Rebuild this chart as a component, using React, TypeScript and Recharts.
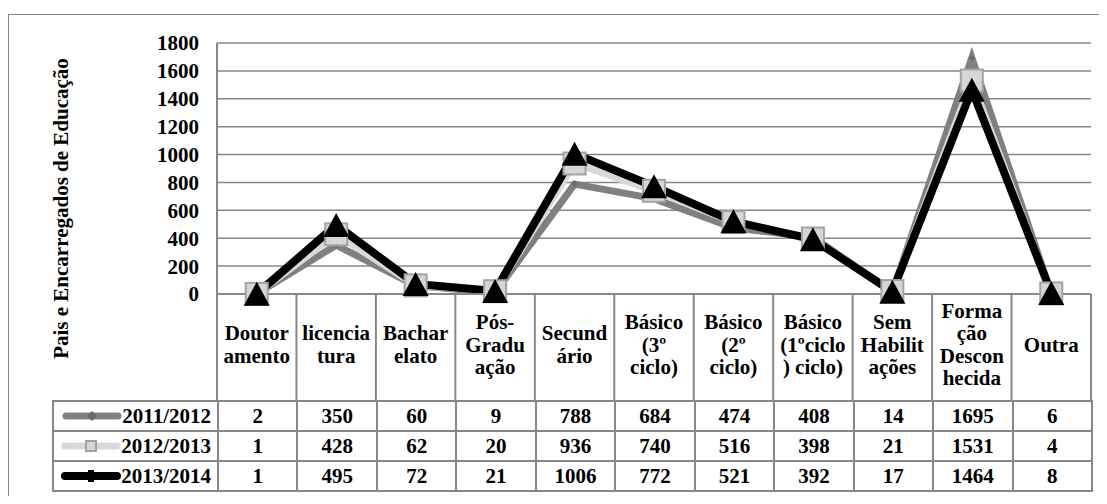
import React from 'react';
import { LineChart, Line, XAxis, YAxis, CartesianGrid, Label } from 'recharts';

const categories = [
  'Doutoramento', 'licenciatura', 'Bacharelato', 'Pós-Graduação', 'Secundário',
  'Básico (3º ciclo)', 'Básico (2º ciclo)', 'Básico (1ºciclo) ciclo)', 'Sem Habilitações',
  'Formação Desconhecida', 'Outra',
];
// category header text, broken the way the original table wraps it
const categoryLines = [
  ['Doutor', 'amento'], ['licencia', 'tura'], ['Bachar', 'elato'], ['Pós-', 'Gradu', 'ação'],
  ['Secund', 'ário'], ['Básico', '(3º', 'ciclo)'], ['Básico', '(2º', 'ciclo)'],
  ['Básico', '(1ºciclo', ') ciclo)'], ['Sem', 'Habilit', 'ações'], ['Forma', 'ção', 'Descon', 'hecida'], ['Outra'],
];
const seriesNames = ['2011/2012', '2012/2013', '2013/2014'];
const values2011 = [2, 350, 60, 9, 788, 684, 474, 408, 14, 1695, 6];
const values2012 = [1, 428, 62, 20, 936, 740, 516, 398, 21, 1531, 4];
const values2013 = [1, 495, 72, 21, 1006, 772, 521, 392, 17, 1464, 8];
const yTicks = [0, 200, 400, 600, 800, 1000, 1200, 1400, 1600, 1800];
const yTitle = 'Pais e Encarregados de Educação';

const seriesValues = [values2011, values2012, values2013];
const data = categories.map((name, i) => ({
  name,
  s0: values2011[i],
  s1: values2012[i],
  s2: values2013[i],
}));

const FONT = '"Liberation Serif", "Times New Roman", serif';
const GRID = '#878787';
const PLOT_W = 874;
const BAND = PLOT_W / categories.length;
const HEADER_H = 107;

const Diamond = ({ cx, cy, r = 9 }: any) =>
  cx == null ? null : (
    <polygon points={`${cx},${cy - r} ${cx + r},${cy} ${cx},${cy + r} ${cx - r},${cy}`} fill="#6a6a6a" />
  );
const Square = ({ cx, cy, s = 11 }: any) =>
  cx == null ? null : (
    <rect x={cx - s} y={cy - s} width={s * 2} height={s * 2} fill="#d6d6d6" stroke="#a3a3a3" strokeWidth={2} />
  );
const Triangle = ({ cx, cy, h = 12, w = 13 }: any) =>
  cx == null ? null : (
    <polygon points={`${cx},${cy - h} ${cx + w},${cy + h} ${cx - w},${cy + h}`} fill="#000" />
  );

const seriesStyle = [
  { stroke: '#808080', width: 7, Dot: Diamond },
  { stroke: '#d9d9d9', width: 7, Dot: Square },
  { stroke: '#000000', width: 8, Dot: Triangle },
];

const CategoryTick = (props: any) => {
  const { x, y, index } = props;
  const lines = categoryLines[index] || [];
  const mid = y + HEADER_H / 2;
  const last = index === categoryLines.length - 1;
  return (
    <g>
      <line x1={x - BAND / 2} x2={x - BAND / 2} y1={y} y2={y + HEADER_H} stroke={GRID} strokeWidth={2} />
      {last && <line x1={x + BAND / 2} x2={x + BAND / 2} y1={y} y2={y + HEADER_H} stroke={GRID} strokeWidth={2} />}
      <text textAnchor="middle" fontSize={21} fontWeight="bold" fontFamily={FONT} fill="#000">
        {lines.map((l, i) => (
          <tspan key={i} x={x} y={mid + (i - (lines.length - 1) / 2) * 22.5 + 4}>{l}</tspan>
        ))}
      </text>
    </g>
  );
};

const TitleLabel = (props: any) => {
  const vb = props.viewBox || { x: 0, y: 0, height: 0 };
  const tx = vb.x + 53;
  const ty = vb.y + vb.height / 2 + 40;
  return (
    <text x={tx} y={ty} transform={`rotate(-90, ${tx}, ${ty})`} textAnchor="middle" dominantBaseline="central"
      fontSize={21} fontWeight="bold" fontFamily={FONT} fill="#000">
      {yTitle}
    </text>
  );
};

const LegendKey = ({ si }: { si: number }) => {
  const st = seriesStyle[si];
  return (
    <svg width={60} height={16} style={{ display: 'block' }}>
      <line x1={4} x2={56} y1={8} y2={8} stroke={st.stroke} strokeWidth={st.width} strokeLinecap="round" />
      {si === 0 && <Diamond cx={30} cy={8} r={5} />}
      {si === 1 && <Square cx={30} cy={8} s={5} />}
      {si === 2 && <rect x={27} y={2} width={6} height={12} fill="#000" />}
    </svg>
  );
};

const cellStyle: React.CSSProperties = {
  border: `2px solid ${GRID}`,
  height: 30,
  padding: 0,
  textAlign: 'center',
  fontWeight: 'bold',
  fontSize: 21,
  lineHeight: '24px',
  boxSizing: 'border-box',
};

export default function App() {
  return (
    <div style={{ position: 'relative', width: 1091, height: 488, fontFamily: FONT }}>
      <div style={{ position: 'absolute', left: 0, top: 6, width: 1095, height: 487, border: `1.5px solid ${GRID}`, boxSizing: 'border-box' }} />
      <div style={{ position: 'absolute', left: 0, top: 0 }}>
        <LineChart width={1096} height={393} data={data} margin={{ top: 35, right: 13, left: 0, bottom: 0 }}>
          <CartesianGrid horizontal vertical={false} stroke={GRID} strokeWidth={1.5} />
          <XAxis dataKey="name" scale="band" height={HEADER_H} interval={0} tickLine={false} tickSize={0} tickMargin={0}
            axisLine={{ stroke: GRID, strokeWidth: 2 }} tick={<CategoryTick />} />
          <YAxis width={209} domain={[0, 1800]} ticks={yTicks} interval={0} tickLine={false} tickSize={0} tickMargin={18}
            axisLine={{ stroke: GRID, strokeWidth: 2 }}
            tick={{ fill: '#000', fontSize: 21, fontWeight: 'bold', fontFamily: FONT }}>
            <Label content={<TitleLabel />} />
          </YAxis>
          {seriesStyle.map((st, si) => (
            <Line key={si} type="linear" dataKey={`s${si}`} name={seriesNames[si]} stroke={st.stroke} strokeWidth={st.width}
              dot={<st.Dot />} activeDot={false} isAnimationActive={false} />
          ))}
        </LineChart>
      </div>
      <table style={{ position: 'absolute', left: 44, top: 392, borderCollapse: 'collapse', tableLayout: 'fixed', width: 1040 }}>
        <colgroup>
          <col style={{ width: 165 }} />
          {categories.map((c) => <col key={c} style={{ width: BAND }} />)}
        </colgroup>
        <tbody>
          {seriesNames.map((n, si) => (
            <tr key={n}>
              <td style={{ ...cellStyle, textAlign: 'right' }}>
                <div style={{ display: 'flex', alignItems: 'center', justifyContent: 'flex-end', paddingRight: 6 }}>
                  <LegendKey si={si} />
                  <span>{n}</span>
                </div>
              </td>
              {seriesValues[si].map((v, i) => (
                <td key={i} style={cellStyle}>{v}</td>
              ))}
            </tr>
          ))}
        </tbody>
      </table>
    </div>
  );
}
